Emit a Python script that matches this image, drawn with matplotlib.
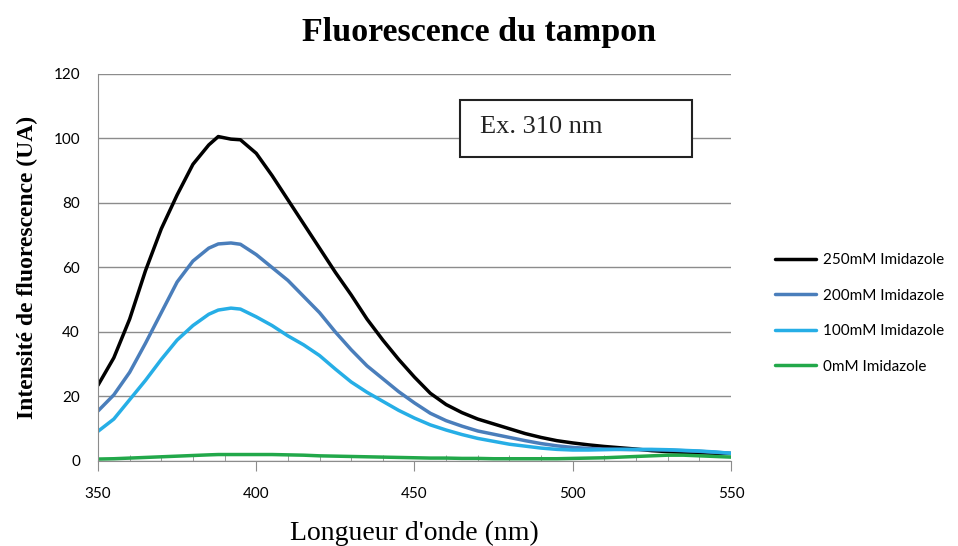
import numpy as np
import matplotlib.pyplot as plt
from matplotlib.patches import Rectangle
from matplotlib.ticker import MultipleLocator

# Emission wavelengths (nm)
wl = [350, 355, 360, 365, 370, 375, 380, 385, 388, 392, 395, 400, 405, 410, 415,
      420, 425, 430, 435, 440, 445, 450, 455, 460, 465, 470, 475, 480, 485, 490,
      495, 500, 505, 510, 515, 520, 525, 530, 535, 540, 545, 550]

# Fluorescence intensity (UA) for each imidazole concentration
imid_250 = [23.5, 32, 44, 59, 72, 82.5, 92, 98, 100.6, 99.8, 99.6, 95.4, 88.5, 81, 73.5,
            66, 58.5, 51.5, 44, 37.5, 31.5, 26, 21, 17.5, 15, 13, 11.5, 10, 8.5, 7.3,
            6.3, 5.6, 5.0, 4.5, 4.1, 3.7, 3.2, 2.9, 2.7, 2.5, 2.4, 2.3]
imid_200 = [15.5, 20.5, 27.5, 36.5, 46, 55.5, 62, 66, 67.3, 67.6, 67.2, 64, 60, 56, 51,
            46, 40, 34.5, 29.5, 25.5, 21.5, 18, 14.8, 12.5, 10.8, 9.3, 8.3, 7.3, 6.3, 5.4,
            4.7, 4.2, 3.9, 3.7, 3.6, 3.5, 3.5, 3.4, 3.2, 3.0, 2.7, 2.4]
imid_100 = [9.2, 13, 19, 25, 31.5, 37.5, 42, 45.5, 46.8, 47.4, 47.1, 44.7, 42, 38.8, 36,
            32.7, 28.5, 24.5, 21.3, 18.5, 15.7, 13.3, 11.2, 9.6, 8.2, 7.0, 6.1, 5.2, 4.6, 4.0,
            3.6, 3.4, 3.4, 3.5, 3.6, 3.6, 3.6, 3.5, 3.3, 3.1, 2.8, 2.4]
imid_0 = [0.6, 0.7, 0.9, 1.1, 1.3, 1.5, 1.7, 1.9, 2.0, 2.0, 2.0, 2.0, 2.0, 1.9, 1.8,
          1.6, 1.5, 1.4, 1.3, 1.2, 1.1, 1.0, 0.9, 0.9, 0.8, 0.8, 0.7, 0.7, 0.7, 0.7,
          0.7, 0.8, 0.9, 1.0, 1.2, 1.4, 1.6, 1.8, 1.8, 1.6, 1.4, 1.2]

series = [
    ("250mM Imidazole", imid_250, "#000000"),
    ("200mM Imidazole", imid_200, "#4A7EBB"),
    ("100mM Imidazole", imid_100, "#26AEE6"),
    ("0mM Imidazole", imid_0, "#22A84A"),
]

fig = plt.figure(figsize=(9.58, 5.46), dpi=100)
ax = fig.add_axes([0.1023, 0.1557, 0.6607, 0.7088])

for name, vals, col in series:
    ax.plot(wl, vals, color=col, lw=2.5, label=name, solid_capstyle="round")

ax.set_xlim(350, 550)
ax.set_ylim(0, 120)
ax.xaxis.set_major_locator(MultipleLocator(50))
ax.xaxis.set_minor_locator(MultipleLocator(10))
ax.yaxis.set_major_locator(MultipleLocator(20))

ax.grid(axis="y", color="#8c8c8c", lw=1)
ax.set_axisbelow(True)
for s in ["top", "right"]:
    ax.spines[s].set_visible(False)
for s in ["left", "bottom"]:
    ax.spines[s].set_color("#8c8c8c")

tick_font = "Lato"
ax.tick_params(axis="x", which="major", direction="out", length=7, color="#8c8c8c",
               labelsize=11, pad=12)
ax.tick_params(axis="x", which="minor", direction="in", length=4, color="#8c8c8c")
ax.tick_params(axis="y", length=0, labelsize=11, pad=13)
for lab in ax.get_xticklabels() + ax.get_yticklabels():
    lab.set_fontfamily(tick_font)

ax.set_xlabel("Longueur d'onde (nm)", family="Liberation Serif", fontsize=20, labelpad=14)
ax.set_ylabel("Intensité de fluorescence (UA)", family="Liberation Serif", fontsize=17,
              fontweight="bold", labelpad=11)
fig.text(0.5, 0.941, "Fluorescence du tampon", family="Liberation Serif", fontsize=24.5,
         fontweight="bold", ha="center", va="center")

# excitation wavelength box
fig.patches.append(Rectangle((0.48, 0.7125), 0.2422, 0.1044, transform=fig.transFigure,
                             facecolor="white", edgecolor="#222222", lw=1.5, zorder=5))
fig.text(0.501, 0.767, "Ex. 310 nm", family="Liberation Serif", fontsize=19,
         va="center", ha="left", color="#222222", zorder=6)

leg = ax.legend(loc="upper left", bbox_to_anchor=(1.048, 0.572), frameon=False,
                prop={"family": tick_font, "size": 11}, handlelength=2.7,
                handletextpad=0.45, labelspacing=1.4)

fig.savefig("out.png", dpi=100)
